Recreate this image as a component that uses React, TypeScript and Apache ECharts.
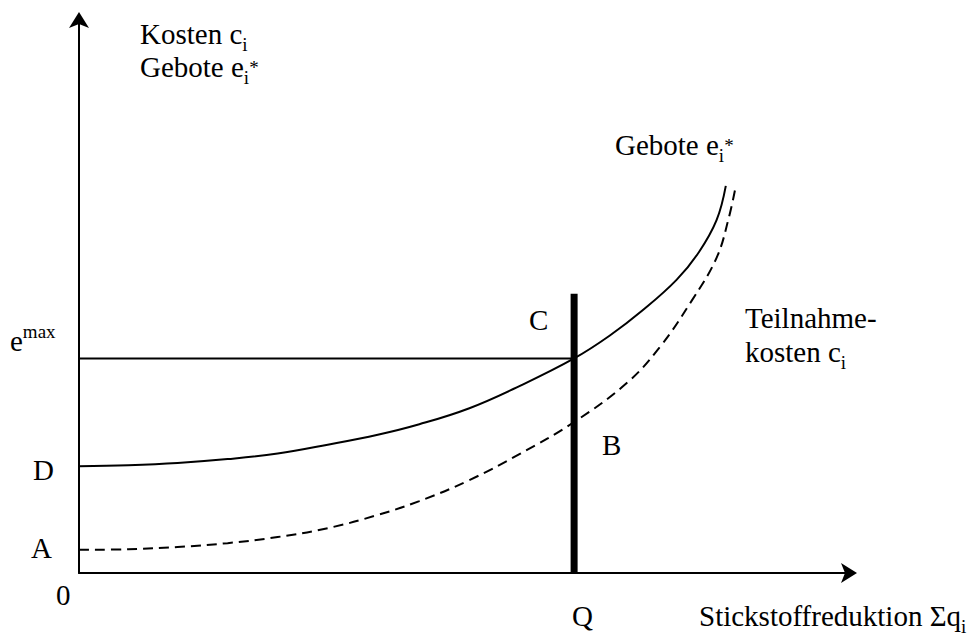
import React, { useEffect, useRef } from "react";
import * as echarts from "echarts";

// Solid curve: bids e_i* (x = nitrogen reduction, y = cost/bid)
const bidX = [0, 6.4, 12.8, 19.3, 25.8, 32.3, 38.8, 44.2, 50.7, 57.2, 64.3, 68.9, 73.2, 77.6, 80.5, 82.8, 84.0];
const bidY = [19.3, 19.5, 19.9, 20.6, 21.6, 23.2, 25.0, 26.9, 29.8, 33.8, 38.8, 42.9, 47.5, 53.0, 58.0, 63.8, 70.0];

// Dashed curve: participation costs c_i
const costX = [0, 6.4, 12.8, 19.3, 25.8, 32.3, 38.8, 44.2, 50.7, 57.2, 64.3, 71.1, 75.4, 79.6, 82.8, 84.4, 85.3];
const costY = [4.2, 4.3, 4.7, 5.4, 6.5, 8.1, 10.5, 13.0, 16.8, 21.5, 27.3, 34.3, 40.8, 49.3, 57.0, 64.3, 70.0];

const qValue = 64.3;      // Q
const eMax = 38.8;        // e^max
const qLineTop = 50.5;    // top of the thick Q line

const FF = '"Liberation Serif", "Times New Roman", serif';
const FS = 29;
const LH = 27;
const BASE_FROM_TOP = LH / 2 + FS * 0.3375;

const rich = {
  m: { fontSize: FS, fontFamily: FF, color: "#000", lineHeight: LH },
  s: { fontSize: 19, fontFamily: FF, color: "#000", lineHeight: 7, padding: [20, 0, 0, 0] },
  p: { fontSize: 19, fontFamily: FF, color: "#000", lineHeight: LH },
  mx: { fontSize: 19, fontFamily: FF, color: "#000", lineHeight: 7, padding: [0, 0, 20, 0] },
};

const labels: { t: string; x: number; base: number }[] = [
  { t: "{m|Kosten c}{s|i}", x: 140, base: 44 },
  { t: "{m|Gebote e}{s|i}{p|*}", x: 140, base: 77 },
  { t: "{m|Gebote e}{s|i}{p|*}", x: 615, base: 155 },
  { t: "{m|Teilnahme-}", x: 745, base: 328 },
  { t: "{m|kosten c}{s|i}", x: 745, base: 362 },
  { t: "{m|C}", x: 529, base: 330 },
  { t: "{m|B}", x: 602, base: 455 },
  { t: "{m|e}{mx|max}", x: 10, base: 351 },
  { t: "{m|D}", x: 33, base: 480 },
  { t: "{m|A}", x: 31, base: 558 },
  { t: "{m|0}", x: 56, base: 605 },
  { t: "{m|Q}", x: 572, base: 626 },
  { t: "{m|Stickstoffreduktion Σq}{s|i}", x: 699, base: 626 },
];

export default function App() {
  const ref = useRef<HTMLDivElement>(null);
  useEffect(() => {
    if (!ref.current) return;
    const chart = echarts.init(ref.current, null, { renderer: "svg" });
    const axisCommon = {
      type: "value" as const,
      min: 0,
      max: 100,
      splitLine: { show: false },
      axisTick: { show: false },
      axisLabel: { show: false },
      axisLine: {
        show: true,
        onZero: false,
        symbol: ["none", "arrow"],
        symbolSize: [15, 16],
        symbolOffset: [0, 8],
        lineStyle: { color: "#000", width: 2 },
      },
    };
    chart.setOption({
      animation: false,
      backgroundColor: "#fff",
      grid: { left: 79, top: 20, width: 770, height: 553 },
      xAxis: axisCommon,
      yAxis: axisCommon,
      series: [
        {
          type: "line",
          name: "Gebote",
          data: bidX.map((x, i) => [x, bidY[i]]),
          smooth: 0.4,
          showSymbol: false,
          lineStyle: { color: "#000", width: 2 },
        },
        {
          type: "line",
          name: "Teilnahmekosten",
          data: costX.map((x, i) => [x, costY[i]]),
          smooth: 0.4,
          showSymbol: false,
          lineStyle: { color: "#000", width: 2, type: [10, 6] },
        },
        {
          type: "line",
          name: "emax",
          data: [[0, eMax], [qValue, eMax]],
          showSymbol: false,
          lineStyle: { color: "#000", width: 2 },
        },
        {
          type: "line",
          name: "Q",
          data: [[qValue, 0], [qValue, qLineTop]],
          showSymbol: false,
          z: 5,
          lineStyle: { color: "#000", width: 7, cap: "butt" },
        },
      ],
      graphic: labels.map((l) => ({
        type: "text",
        x: l.x,
        y: l.base - BASE_FROM_TOP,
        style: {
          text: l.t,
          rich,
          fontSize: FS,
          fontFamily: FF,
          fill: "#000",
          align: "left",
          verticalAlign: "top",
        },
      })),
    });
    return () => chart.dispose();
  }, []);
  return (
    <div
      ref={ref}
      style={{ position: "absolute", left: 0, top: 0, width: 975, height: 637, background: "#fff" }}
    />
  );
}
